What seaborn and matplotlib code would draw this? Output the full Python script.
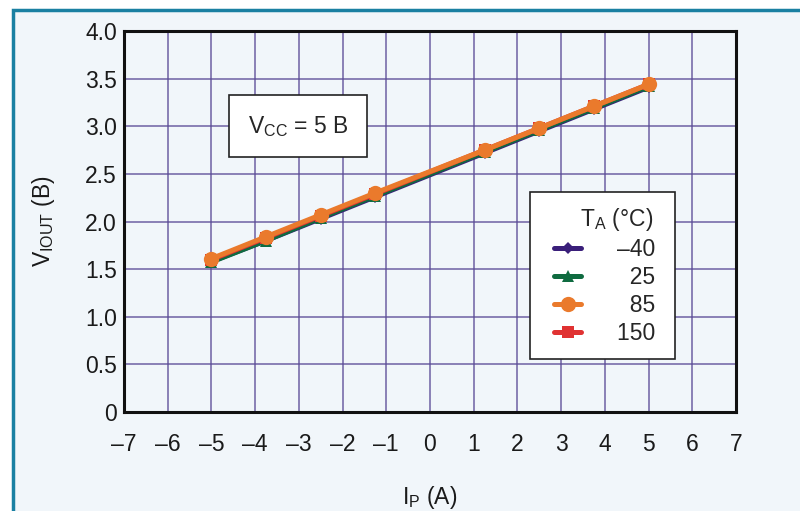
import matplotlib
matplotlib.use("Agg")
import matplotlib.pyplot as plt
from matplotlib.patches import Rectangle
from matplotlib.lines import Line2D
from matplotlib.legend_handler import HandlerLine2D
import seaborn as sns
import pandas as pd

ip = [-5, -3.75, -2.5, -1.25, 1.25, 2.5, 3.75, 5]
v_m40 = [1.58, 1.80, 2.03, 2.26, 2.72, 2.95, 3.18, 3.41]
v_25 = [1.575, 1.80, 2.04, 2.27, 2.73, 2.96, 3.19, 3.42]
v_85 = [1.61, 1.84, 2.07, 2.30, 2.75, 2.98, 3.21, 3.44]
v_150 = [1.60, 1.83, 2.06, 2.29, 2.75, 2.98, 3.21, 3.44]
temps = ["–40", "25", "85", "150"]
xticks = list(range(-7, 8))
xlabels = [("–" + str(-t)) if t < 0 else str(t) for t in xticks]
yticks = [0, 0.5, 1.0, 1.5, 2.0, 2.5, 3.0, 3.5, 4.0]
ylabels = ["0", "0.5", "1.0", "1.5", "2.0", "2.5", "3.0", "3.5", "4.0"]

rows = []
for t, vals in zip(temps, [v_m40, v_25, v_85, v_150]):
    for x, y in zip(ip, vals):
        rows.append({"Ip": x, "V": y, "T": t})
df = pd.DataFrame(rows)

sns.set_theme(style="white")
plt.rcParams["font.family"] = ["Liberation Sans", "DejaVu Sans"]
plt.rcParams["mathtext.fontset"] = "custom"
plt.rcParams["mathtext.rm"] = "Liberation Sans"

FS = 16.5
bg = "#f1f6fa"
fig = plt.figure(figsize=(8, 5.11), dpi=100, facecolor="white")
fig.patches.append(Rectangle((13 / 800, -0.05), 1.1, 1 - 10 / 511 + 0.05,
                             transform=fig.transFigure, facecolor=bg,
                             edgecolor="#1a80a2", linewidth=2.5, zorder=-1))
ax = fig.add_axes([124 / 800, 1 - 412 / 511, 612 / 800, 381 / 511])
ax.set_facecolor(bg)

palette = {"–40": "#3a1f7a", "25": "#0f6b40", "85": "#ea7a2c", "150": "#e03232"}
markers = {"–40": "D", "25": "^", "85": "o", "150": "s"}
sizes = {"–40": 6, "25": 8, "85": 11, "150": 8}

for t in ["–40", "25", "150", "85"]:
    sub = df[df["T"] == t]
    sns.lineplot(data=sub, x="Ip", y="V", ax=ax, color=palette[t], marker=markers[t],
                 markersize=sizes[t], markeredgewidth=0, linewidth=3.6, label=t,
                 zorder=3)

ax.set_xlim(-7, 7)
ax.set_ylim(0, 4.0)
ax.set_xticks(xticks)
ax.set_xticklabels(xlabels, fontsize=FS)
ax.set_yticks(yticks)
ax.set_yticklabels(ylabels, fontsize=FS)
ax.tick_params(axis="y", length=0, pad=5, colors="#1a1a1a")
ax.tick_params(axis="x", length=0, pad=15, colors="#1a1a1a")
ax.grid(True, color="#5a4a96", linewidth=1.2, alpha=0.8)
for s in ax.spines.values():
    s.set_color("#111111")
    s.set_linewidth(2.2)

ax.set_xlabel(r"I$_{\mathregular{P}}$ (A)", fontsize=FS, labelpad=20, color="#1a1a1a")
ax.set_ylabel(r"V$_{\mathregular{IOUT}}$ (B)", fontsize=FS, labelpad=20, color="#1a1a1a")

ax.text(-3.02, 3.0, r"V$_{\mathregular{CC}}$ = 5 B", fontsize=FS, ha="center", va="center",
        zorder=5,
        bbox=dict(boxstyle="square,pad=0.82", facecolor="white", edgecolor="#222222",
                  linewidth=1.2))

handles, labels = ax.get_legend_handles_labels()
order = [labels.index(t) for t in temps]
pad_labels = ["–40 ", "  25 ", "  85 ", "150 "]
leg = ax.legend([handles[i] for i in order], pad_labels,
                title=r"T$_{\mathregular{A}}$ (°C)  ", loc="upper left",
                bbox_to_anchor=(0.663, 0.577), fontsize=FS, title_fontsize=FS,
                frameon=True, fancybox=False, edgecolor="#222222", facecolor="white",
                framealpha=1, alignment="right", handlelength=1.65, handletextpad=1.55,
                labelspacing=0.22, borderpad=0.6, borderaxespad=0,
                handler_map={Line2D: HandlerLine2D(xpad=0.45)})
leg.get_frame().set_linewidth(1.2)
leg.set_zorder(6)

fig.savefig("out.png", dpi=100, facecolor="white")
